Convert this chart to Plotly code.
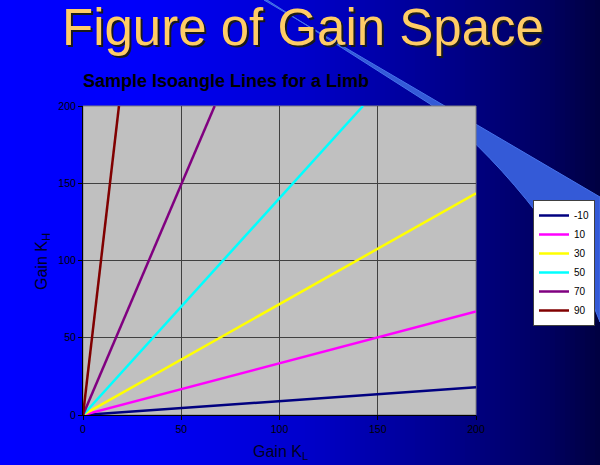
import plotly.graph_objects as go

# ---- data ----
angles = ["-10", "10", "30", "50", "70", "90"]
kl_start = [0, 0, 0, 0, 0, 0]
kh_start = [0, 0, 0, 0, 0, 0]
kl_end = [200, 200, 200, 142.5, 67, 18.3]
kh_end = [18, 67, 143.5, 200, 200, 200]
colors = ["#000080", "#FF00FF", "#FFFF00", "#00FFFF", "#800080", "#800000"]
x_ticks = [0, 50, 100, 150, 200]
y_ticks = [0, 50, 100, 150, 200]

W, H = 600, 465
L, R, T, B = 83, 124, 106, 50
PW, PH = W - L - R, H - T - B


def px(x):
    return (x - L) / PW


def py(y):
    return (H - B - y) / PH


fig = go.Figure()
for i, a in enumerate(angles):
    fig.add_trace(go.Scatter(
        x=[kl_start[i], kl_end[i]], y=[kh_start[i], kh_end[i]],
        mode="lines", name=a,
        line=dict(color=colors[i], width=2.5),
    ))

shapes = []
# background gradient (slide)
stops = [(0, 255), (150, 250), (300, 205), (400, 160), (480, 125), (550, 95), (600, 65)]


def blue_at(x):
    for (x0, b0), (x1, b1) in zip(stops[:-1], stops[1:]):
        if x0 <= x <= x1:
            return b0 + (b1 - b0) * (x - x0) / (x1 - x0)
    return stops[-1][1]


step = 5
for x in range(0, W, step):
    b = int(round(blue_at(x + step / 2)))
    shapes.append(dict(type="rect", xref="paper", yref="paper",
                       x0=px(x), x1=px(x + step + 0.5), y0=py(H), y1=py(0),
                       fillcolor=f"rgb(0,0,{b})", line=dict(width=0), layer="below"))

# swoosh
path = (f"M {px(264)},{py(0)} L {px(600)},{py(197)} L {px(600)},{py(322)} "
        f"C {px(570)},{py(240)} {px(490)},{py(150)} {px(430)},{py(104)} "
        f"L {px(267)},{py(0)} Z")
shapes.append(dict(type="path", xref="paper", yref="paper", path=path,
                   fillcolor="rgb(52,90,215)", line=dict(color="rgb(70,115,235)", width=1),
                   layer="below"))
# plot area
shapes.append(dict(type="rect", xref="paper", yref="paper", x0=0, x1=1, y0=0, y1=1,
                   fillcolor="#C0C0C0", line=dict(color="#808080", width=1), layer="below"))

FONT = "Liberation Sans, Arial"
annotations = [
    dict(text="Figure of Gain Space", x=px(303), y=py(27),
         font=dict(family=FONT, size=51, color="#FFCC66", shadow="2px 2px 0px #1a1a1a")),
    dict(text="<b>Sample Isoangle Lines for a Limb</b>", x=px(226), y=py(81),
         font=dict(family=FONT, size=18, color="black")),
    dict(text="Gain K<sub>L</sub>", x=px(280), y=py(452),
         font=dict(family=FONT, size=16, color="#000022")),
    dict(text="Gain K<sub>H</sub>", x=px(42), y=py(262), textangle=-90,
         font=dict(family=FONT, size=16, color="#000022")),
]
for a in annotations:
    a.update(xref="paper", yref="paper", showarrow=False, xanchor="center", yanchor="middle")

axis_common = dict(
    showgrid=True, gridcolor="#404040", gridwidth=1,
    showline=True, linecolor="#000000", linewidth=1,
    ticks="outside", ticklen=4, tickcolor="#000000",
    tickfont=dict(family=FONT, size=10.5, color="black"),
    zeroline=False, range=[0, 200],
)

fig.update_layout(
    width=W, height=H,
    margin=dict(l=L, r=R, t=T, b=B, autoexpand=False),
    paper_bgcolor="#0000FF",
    plot_bgcolor="rgba(0,0,0,0)",
    xaxis=dict(**axis_common, tickvals=x_ticks),
    yaxis=dict(**axis_common, tickvals=y_ticks),
    shapes=shapes,
    annotations=annotations,
    showlegend=True,
    legend=dict(x=px(533), y=py(200), xanchor="left", yanchor="top",
                bgcolor="white", bordercolor="#404040", borderwidth=1,
                font=dict(family=FONT, size=10, color="black"),
                itemwidth=30, tracegroupgap=0),
)

fig.write_html("out.html", config={"displayModeBar": False},
               post_script="document.body.style.margin='0';")
